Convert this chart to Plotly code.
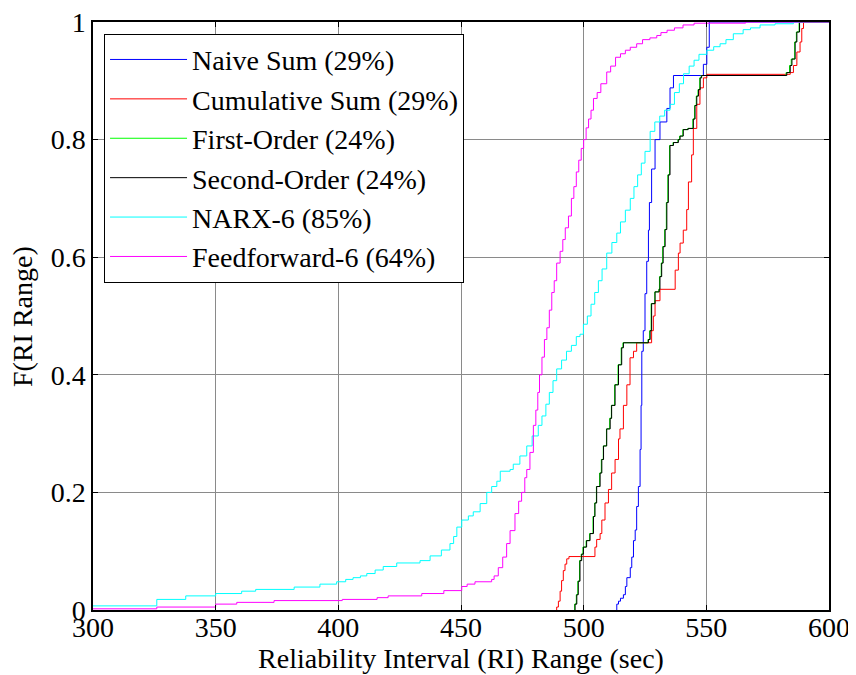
import plotly.graph_objects as go

# ---------------- data (step CDFs) ----------------
naive_x = [513.5, 513.5, 514.2, 515.0, 516.2, 517.0, 517.6, 519.0, 519.6, 520.3, 521.0, 521.6,
           522.3, 523.0, 523.4, 523.7, 524.3, 525.0, 525.7, 526.4, 526.8, 527.7, 529.1, 531.1,
           533.9, 535.2, 536.6, 548.8, 550.2, 551.2, 600.0]
naive_y = [0.0, 0.01, 0.015, 0.02, 0.026, 0.04, 0.055, 0.072, 0.09, 0.118, 0.136, 0.176,
           0.21, 0.273, 0.348, 0.44, 0.475, 0.538, 0.593, 0.646, 0.693, 0.75, 0.80, 0.83,
           0.853, 0.888, 0.909, 0.928, 0.957, 1.0, 1.0]

cum_x = [489.0, 489.0, 489.7, 490.4, 491.0, 491.7, 492.4, 493.1, 494.0, 504.6, 505.3, 506.7,
         507.4, 508.7, 510.1, 511.4, 512.8, 514.2, 514.8, 516.2, 517.6, 518.9, 520.3, 521.6,
         527.7, 528.4, 529.1, 531.1, 537.3, 538.6, 539.3, 540.6, 542.0, 542.7, 544.0, 544.7,
         546.1, 547.4, 548.8, 550.2, 584.2, 585.5, 586.9, 588.2, 588.9, 589.6, 600.0]
cum_y = [0.0, 0.005, 0.015, 0.032, 0.05, 0.067, 0.078, 0.087, 0.0909, 0.107, 0.12, 0.13,
         0.153, 0.182, 0.205, 0.233, 0.256, 0.291, 0.308, 0.348, 0.383, 0.429, 0.44, 0.4545,
         0.475, 0.50, 0.526, 0.5454, 0.578, 0.607, 0.624, 0.646, 0.681, 0.728, 0.774, 0.819,
         0.86, 0.888, 0.905, 0.911, 0.914, 0.926, 0.949, 0.966, 0.989, 1.0, 1.0]

first_x = [496.3, 496.3, 497.0, 497.6, 498.3, 499.0, 499.7, 501.0, 502.4, 503.8, 504.5, 505.2,
           506.5, 507.2, 508.0, 509.3, 510.6, 511.3, 512.6, 514.0, 515.3, 516.0, 526.2, 526.9,
           527.5, 529.0, 530.6, 530.9, 531.6, 532.2, 533.0, 533.7, 534.3, 535.0, 536.4, 538.4,
           539.1, 540.4, 542.4, 544.5, 545.2, 545.9, 546.6, 547.3, 547.9, 582.5, 583.9, 584.6,
           586.0, 586.7, 587.8, 600.0]
first_y = [0.0, 0.01, 0.026, 0.049, 0.084, 0.095, 0.107, 0.118, 0.13, 0.159, 0.182, 0.21,
           0.233, 0.256, 0.279, 0.308, 0.326, 0.348, 0.383, 0.417, 0.446, 0.4545, 0.46, 0.475,
           0.521, 0.541, 0.5454, 0.567, 0.59, 0.618, 0.647, 0.693, 0.74, 0.79, 0.795, 0.80,
           0.806, 0.817, 0.819, 0.835, 0.858, 0.874, 0.885, 0.905, 0.909, 0.914, 0.926, 0.937,
           0.966, 0.983, 1.0, 1.0]

second_x = [496.5, 496.5, 497.2, 497.8, 498.5, 499.2, 499.9, 501.2, 502.6, 504.0, 504.6, 505.3,
            506.7, 507.4, 508.1, 509.4, 510.8, 511.4, 512.8, 514.2, 515.5, 516.2, 526.4, 527.1,
            527.7, 529.1, 530.8, 531.1, 531.8, 532.4, 533.2, 533.9, 534.5, 535.2, 536.6, 538.6,
            539.3, 540.6, 542.6, 544.7, 545.4, 546.1, 546.8, 547.5, 548.1, 582.8, 584.2, 584.9,
            586.2, 586.9, 588.0, 600.0]
second_y = [0.0, 0.01, 0.026, 0.049, 0.084, 0.095, 0.107, 0.118, 0.13, 0.159, 0.182, 0.21,
            0.233, 0.256, 0.279, 0.308, 0.326, 0.348, 0.383, 0.417, 0.446, 0.4545, 0.46, 0.475,
            0.521, 0.541, 0.5454, 0.567, 0.59, 0.618, 0.647, 0.693, 0.74, 0.79, 0.795, 0.80,
            0.806, 0.817, 0.819, 0.835, 0.858, 0.874, 0.885, 0.905, 0.909, 0.914, 0.926, 0.937,
            0.966, 0.983, 1.0, 1.0]

narx_x = [300.0, 326.0, 337.8, 350.0, 360.6, 366.3, 382.0, 392.5, 399.3, 403.0, 406.0, 409.0,
          411.6, 415.0, 418.3, 423.8, 433.3, 437.4, 442.0, 445.5, 447.0, 448.3, 450.3, 453.0,
          455.0, 457.8, 460.5, 462.5, 464.6, 466.0, 470.0, 471.3, 474.0, 476.8, 479.0, 481.5,
          483.0, 484.6, 486.0, 487.5, 489.0, 491.0, 493.0, 495.0, 497.0, 498.5, 499.9, 501.5,
          503.0, 504.5, 506.0, 507.5, 509.4, 511.5, 513.5, 515.0, 517.0, 519.0, 520.5, 522.0,
          523.5, 525.0, 527.1, 529.0, 531.0, 533.0, 535.2, 537.0, 539.0, 540.7, 543.0, 545.0,
          547.0, 550.2, 553.0, 555.6, 558.0, 561.0, 565.0, 568.0, 571.9, 578.0, 585.5, 600.0]
narx_y = [0.007, 0.018, 0.024, 0.028, 0.032, 0.035, 0.039, 0.044, 0.048, 0.052, 0.055, 0.058,
          0.062, 0.068, 0.074, 0.080, 0.084, 0.092, 0.102, 0.113, 0.125, 0.141, 0.153, 0.16,
          0.167, 0.181, 0.200, 0.21, 0.219, 0.236, 0.239, 0.248, 0.262, 0.279, 0.296, 0.314,
          0.33, 0.35, 0.37, 0.39, 0.41, 0.425, 0.44, 0.45, 0.465, 0.469, 0.486, 0.50,
          0.52, 0.54, 0.56, 0.58, 0.607, 0.625, 0.641, 0.66, 0.68, 0.70, 0.72, 0.74,
          0.76, 0.78, 0.814, 0.83, 0.84, 0.85, 0.86, 0.88, 0.895, 0.912, 0.925, 0.935,
          0.945, 0.952, 0.958, 0.963, 0.97, 0.98, 0.987, 0.99, 0.995, 0.997, 1.0, 1.0]

ff_x = [300.0, 326.0, 350.0, 358.6, 373.8, 401.6, 415.8, 420.3, 434.0, 443.0, 450.3, 452.5,
        455.7, 462.5, 463.5, 465.2, 467.0, 468.6, 470.0, 472.0, 473.5, 474.7, 476.0, 476.8,
        478.1, 479.5, 480.5, 481.3, 482.0, 483.0, 484.0, 485.0, 486.0, 487.0, 488.0, 489.0,
        490.4, 491.5, 492.5, 493.8, 495.0, 496.0, 497.0, 498.0, 499.0, 500.0, 501.0, 502.0,
        503.0, 504.0, 505.5, 507.0, 509.4, 511.0, 513.0, 515.0, 517.0, 519.0, 521.6, 524.0,
        527.0, 529.8, 531.5, 534.0, 537.0, 540.5, 545.0, 566.0, 600.0]
ff_y = [0.002, 0.005, 0.010, 0.013, 0.016, 0.018, 0.021, 0.024, 0.028, 0.033, 0.040, 0.044,
        0.048, 0.052, 0.058, 0.072, 0.09, 0.113, 0.135, 0.164, 0.185, 0.2, 0.225, 0.239,
        0.268, 0.314, 0.34, 0.37, 0.40, 0.43, 0.46, 0.48, 0.51, 0.54, 0.56, 0.59,
        0.61, 0.63, 0.65, 0.67, 0.70, 0.72, 0.745, 0.765, 0.785, 0.80, 0.82, 0.835,
        0.85, 0.87, 0.88, 0.895, 0.915, 0.925, 0.94, 0.946, 0.952, 0.957, 0.963, 0.97,
        0.973, 0.977, 0.982, 0.986, 0.99, 0.995, 0.998, 1.0, 1.0]

series = [
    ("Naive Sum (29%)", naive_x, naive_y, "#0000FF"),
    ("Cumulative Sum (29%)", cum_x, cum_y, "#FF0000"),
    ("First-Order (24%)", first_x, first_y, "#00FF00"),
    ("Second-Order (24%)", second_x, second_y, "#000000"),
    ("NARX-6 (85%)", narx_x, narx_y, "#00FFFF"),
    ("Feedforward-6 (64%)", ff_x, ff_y, "#FF00FF"),
]

x_ticks = [300, 350, 400, 450, 500, 550, 600]
y_ticks = [0, 0.2, 0.4, 0.6, 0.8, 1]
y_tick_text = ["0", "0.2", "0.4", "0.6", "0.8", "1"]

FONT = "Liberation Serif"

fig = go.Figure()
for i, (name, xs, ys, col) in enumerate(series):
    fig.add_trace(go.Scatter(
        x=xs, y=ys, name=name, mode="lines", line=dict(color=col, width=1, shape="hv"),
        legendgroup=f"g{i}",
    ))

axis_common = dict(
    showgrid=True, gridcolor="#8a8a8a", gridwidth=1,
    showline=True, linecolor="black", linewidth=1.5, mirror="allticks",
    ticks="inside", ticklen=5, tickcolor="black", tickwidth=1,
    zeroline=False, automargin=False, ticklabeloverflow="allow",
    tickfont=dict(family=FONT, size=28, color="black"),
)

# the page body adds an 8px offset, so the figure is 8px smaller and margins shifted
fig.update_layout(
    width=848, height=667,
    margin=dict(l=85, r=27, t=14, b=65),
    paper_bgcolor="white", plot_bgcolor="white",
    font=dict(family=FONT, size=28, color="black"),
    xaxis=dict(range=[300, 600], tickvals=x_ticks, ticklabelstandoff=-8,
               title=dict(text="Reliability Interval (RI) Range (sec)", standoff=5,
                          font=dict(family=FONT, size=28)),
               **axis_common),
    yaxis=dict(range=[0, 1], tickvals=y_ticks, ticktext=y_tick_text, **axis_common),
    legend=dict(x=0.015, y=0.98, xanchor="left", yanchor="top",
                bgcolor="white", bordercolor="black", borderwidth=1,
                font=dict(family=FONT, size=28, color="black"),
                tracegroupgap=0, itemwidth=77),
    showlegend=True,
    annotations=[dict(text="F(RI Range)", xref="paper", yref="paper",
                      x=-0.0965, y=0.5, xanchor="center", yanchor="middle",
                      textangle=-90, showarrow=False,
                      font=dict(family=FONT, size=28, color="black"))],
)

fig.write_html("out.html")
